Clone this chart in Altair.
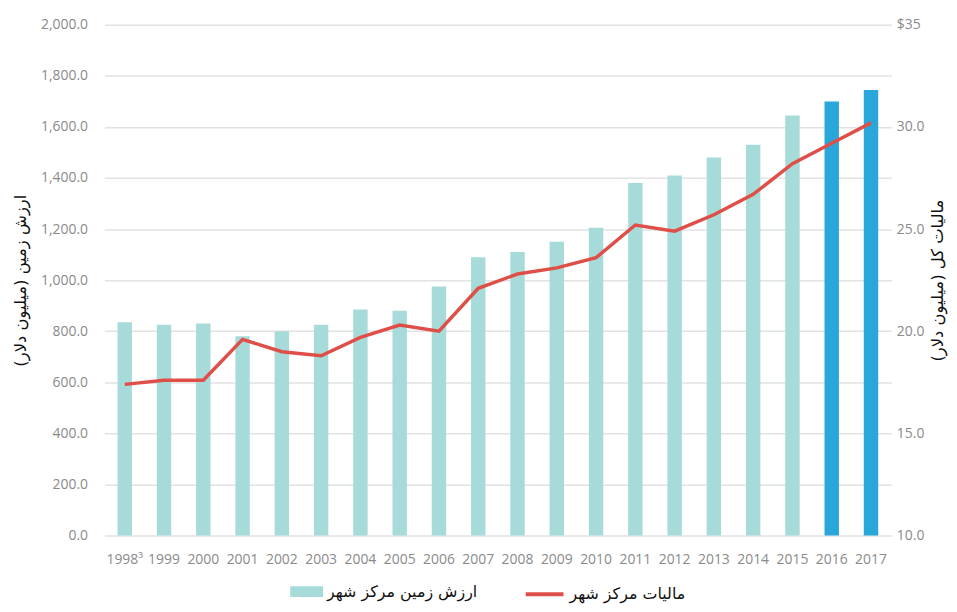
import altair as alt
import pandas as pd

years = ["1998³", "1999", "2000", "2001", "2002", "2003", "2004", "2005", "2006", "2007",
         "2008", "2009", "2010", "2011", "2012", "2013", "2014", "2015", "2016", "2017"]
land_value = [835, 825, 830, 780, 800, 825, 885, 880, 975, 1090,
              1110, 1150, 1205, 1380, 1410, 1480, 1530, 1645, 1700, 1745]
tax_total = [17.4, 17.6, 17.6, 19.6, 19.0, 18.8, 19.7, 20.3, 20.0, 22.1,
             22.8, 23.1, 23.6, 25.2, 24.9, 25.7, 26.7, 28.2, 29.2, 30.2]
highlight_years = ["2016", "2017"]

bar_label = "ارزش زمین مرکز شهر"
line_label = "مالیات مرکز شهر"
left_title = "ارزش زمین (میلیون دلار)"
right_title = "مالیات کل (میلیون دلار)"

df = pd.DataFrame({
    "year": years,
    "land": land_value,
    "tax": tax_total,
    "hl": [y in highlight_years for y in years],
    "bar_series": bar_label,
    "line_series": line_label,
})

TEAL = "#a6dbd9"
BLUE = "#29a6da"
RED = "#df4f48"
GRAY = "#8a8a8a"
LATIN = "Open Sans"
PERSIAN = "DejaVu Sans"

x = alt.X("year:N", sort=years, title=None,
          scale=alt.Scale(paddingInner=0.633, paddingOuter=0.335),
          axis=alt.Axis(labelAngle=0, domain=False, ticks=False, labelPadding=17,
                        labelFont=LATIN, labelFontSize=14, labelColor=GRAY))

bars = alt.Chart(df).mark_bar().encode(
    x=x,
    y=alt.Y("land:Q", title=left_title,
            scale=alt.Scale(domain=[0, 2000], nice=False),
            axis=alt.Axis(values=list(range(0, 2001, 200)), format=",.1f", grid=True,
                          gridColor="#e2e2e2", gridWidth=1.5, domain=False, ticks=False,
                          labelPadding=17, labelFont=LATIN, labelFontSize=14, labelColor=GRAY,
                          titleFont=PERSIAN, titleFontSize=16.5, titleFontWeight="normal",
                          titleColor="#111", titlePadding=12)),
    color=alt.condition(
        "datum.hl",
        alt.value(BLUE),
        alt.Color("bar_series:N", scale=alt.Scale(domain=[bar_label], range=[TEAL]),
                  legend=alt.Legend(title=None, orient="none", legendX=187, legendY=554,
                                    symbolType="M-1,-0.33H1V0.33H-1Z", symbolSize=1089,
                                    symbolStrokeWidth=0, labelFont=PERSIAN, labelFontSize=16,
                                    labelColor="#111", labelOffset=4, labelLimit=400,
                                    padding=0)),
    ),
)

line = alt.Chart(df).mark_line(strokeWidth=3.5).encode(
    x=x,
    y=alt.Y("tax:Q", title=right_title,
            scale=alt.Scale(domain=[10, 35], nice=False),
            axis=alt.Axis(orient="right", values=[10, 15, 20, 25, 30, 35], grid=False,
                          domain=False, ticks=False, labelPadding=5,
                          labelExpr="datum.value == 35 ? '$35' : format(datum.value, '.1f')",
                          labelFont=LATIN, labelFontSize=14, labelColor=GRAY,
                          titleFont=PERSIAN, titleFontSize=16.5, titleFontWeight="normal",
                          titleColor="#111", titleAngle=270, titleBaseline="top",
                          titlePadding=6)),
    stroke=alt.Stroke("line_series:N", scale=alt.Scale(domain=[line_label], range=[RED]),
                      legend=alt.Legend(title=None, orient="none", legendX=422, legendY=552,
                                        symbolType="stroke", symbolSize=1444,
                                        symbolStrokeWidth=4, labelFont=PERSIAN,
                                        labelFontSize=16, labelColor="#111",
                                        labelOffset=4, labelLimit=400, padding=0)),
)

chart = alt.layer(bars, line).resolve_scale(y="independent").properties(
    width=792, height=514,
    padding={"left": 97, "top": 15, "right": 58, "bottom": 67},
    autosize=alt.AutoSizeParams(type="none"),
    background="white",
).configure_view(strokeWidth=0)

chart.save("out.html", embed_options={"renderer": "svg", "actions": False})
